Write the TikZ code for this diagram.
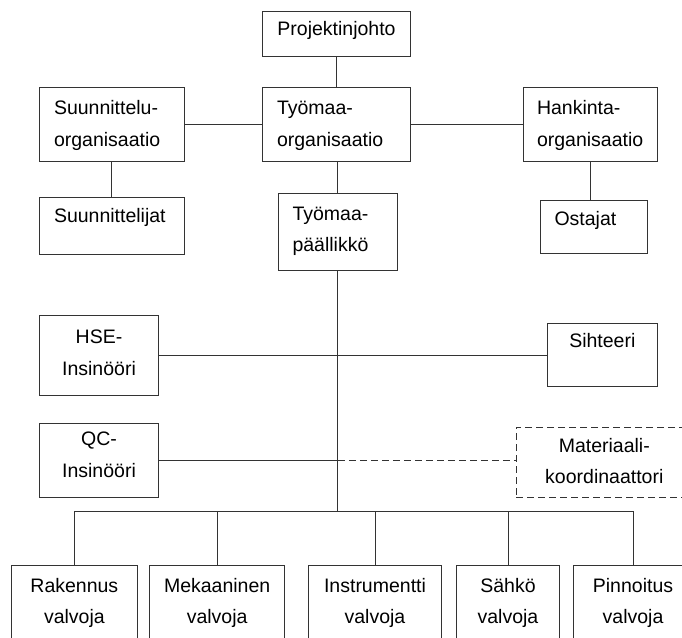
\documentclass[tikz,border=0pt]{standalone}
\usepackage{fontspec}
\setmainfont{Liberation Sans}
\hyphenpenalty=10000

\begin{document}
\begin{tikzpicture}[
  x=1pt, y=-1pt,
  box/.style={draw=black!80, line width=1pt, anchor=north west, inner ysep=0pt, font=\fontsize{19.5}{31.5}\selectfont},
  lbox/.style={box, align=left, inner xsep=14.5pt},
  cbox/.style={box, align=center, inner xsep=8pt},
  link/.style={draw=black!80, line width=0.9pt},
  dashlink/.style={link, dash pattern=on 7pt off 4pt}
]
\useasboundingbox (0,0) rectangle (682,637);

\node[cbox, text width=132pt, text height=24.5pt, text depth=20.5pt] (proj) at (262,10.5) {Projektinjohto};
\node[lbox, text width=115.5pt, text height=27pt, text depth=46.5pt] (suunorg) at (39,87) {Suunnittelu-\\organisaatio};
\node[lbox, text width=119pt, text height=27pt, text depth=46.5pt] (tyoorg) at (262,87) {Työmaa-\\organisaatio};
\node[lbox, inner xsep=14pt, text width=106.5pt, text height=27pt, text depth=46.5pt] (hankorg) at (522.5,87) {Hankinta-\\organisaatio};
\node[lbox, text width=115.5pt, text height=25.2pt, text depth=31.8pt] (suun) at (39,196.5) {Suunnittelijat};
\node[lbox, text width=90.5pt, text height=26.5pt, text depth=50.5pt] (tyopaal) at (277.5,193) {Työmaa-\\päällikkö};
\node[lbox, text width=78.5pt, text height=25pt, text depth=28pt] (ostajat) at (539.5,200) {Ostajat};
\node[cbox, text width=103pt, text height=28.3pt, text depth=51.2pt] (hse) at (39,315) {HSE-\\Insinööri};
\node[cbox, text width=94.3pt, text height=24pt, text depth=38.7pt] (siht) at (546.7,323.3) {Sihteeri};
\node[cbox, text width=103pt, text height=21.7pt, text depth=51.7pt] (qc) at (39,423.3) {QC-\\Insinööri};
\node[cbox, dashlink, text width=160.3pt, text height=25.3pt, text depth=45pt] (mat) at (515.7,426.7) {Materiaali-\\koordinaattori};
\node[cbox, text width=109.7pt, text height=26.7pt, text depth=53.3pt] (rak) at (11,565) {Rakennus\\valvoja};
\node[cbox, text width=119.3pt, text height=26.7pt, text depth=53.3pt] (mek) at (149,565) {Mekaaninen\\valvoja};
\node[cbox, text width=116.4pt, text height=26.7pt, text depth=53.3pt] (ins) at (308.3,565) {Instrumentti\\valvoja};
\node[cbox, text width=87pt, text height=26.7pt, text depth=53.3pt] (sah) at (456,565) {Sähkö\\valvoja};
\node[cbox, text width=103pt, text height=26.7pt, text depth=53.3pt] (pin) at (573,565) {Pinnoitus\\valvoja};

\coordinate (bus) at (tyopaal.south |- 0,511.7);

\draw[link] (proj) -- (tyoorg);
\draw[link] (suunorg.east) -- (suunorg.east -| tyoorg.west);
\draw[link] (tyoorg.east) -- (tyoorg.east -| hankorg.west);
\draw[link] (suunorg) -- (suun);
\draw[link] (hankorg.south) -- (hankorg.south |- ostajat.north);
\draw[link] (tyopaal.north) -- (tyopaal.north |- tyoorg.south);
\draw[link] (tyopaal.south) -- (bus);
\draw[link] (hse.east) -- (hse.east -| siht.west);
\draw[link] (qc.east) -- (qc.east -| bus);
\draw[dashlink] (qc.east -| bus) -- (qc.east -| mat.west);
\foreach \n in {rak,mek,ins,sah,pin}
  \draw[link] (bus) -| (\n.north);
\end{tikzpicture}
\end{document}
